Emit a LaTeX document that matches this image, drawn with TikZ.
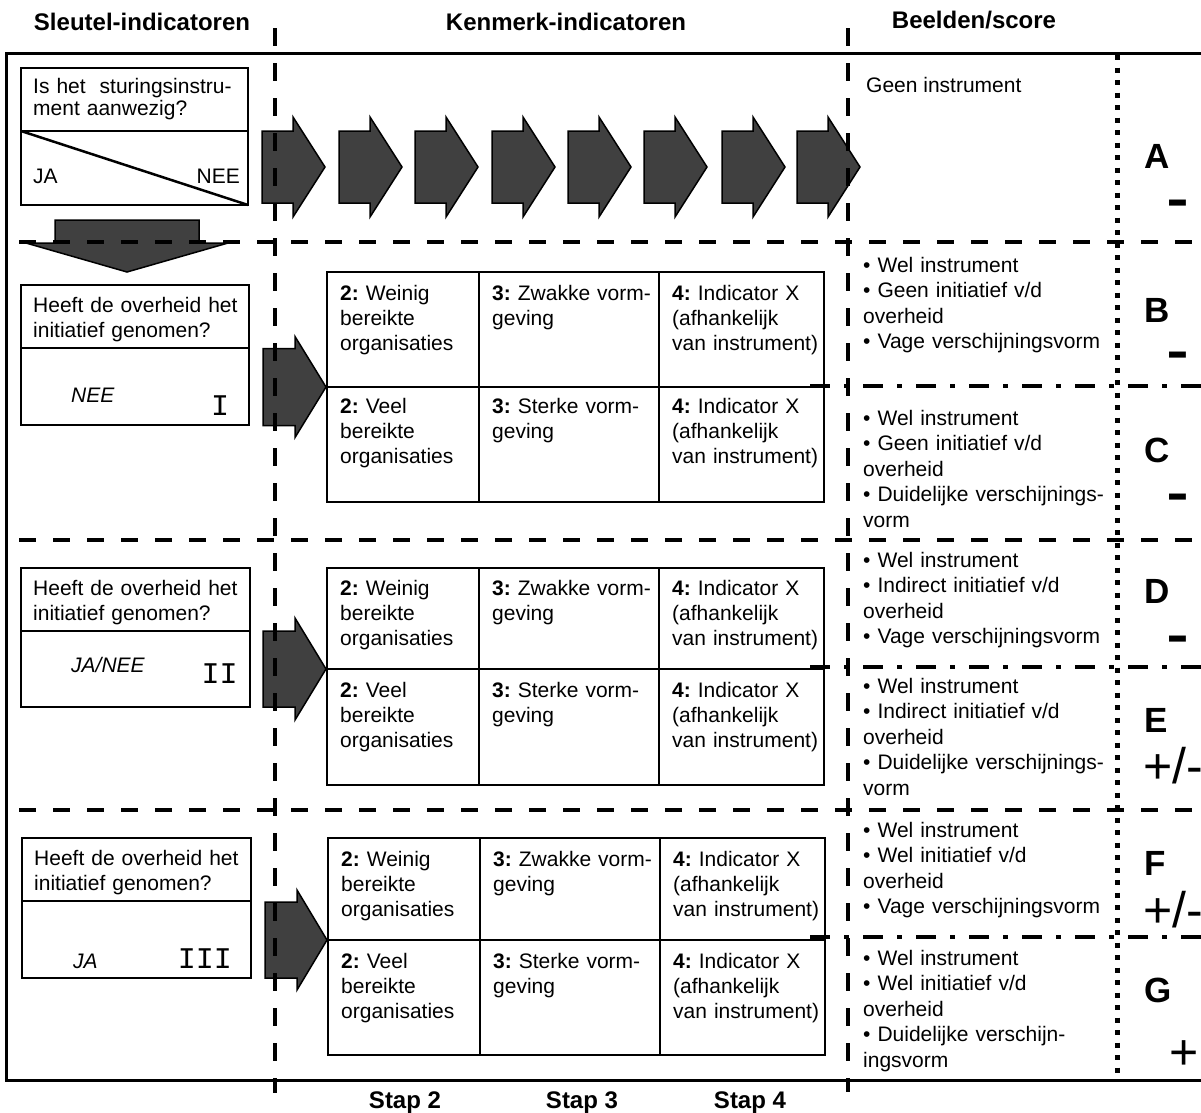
\documentclass[tikz,border=0pt]{standalone}
\usepackage{fontspec}
\usepackage{graphicx}
\setmainfont{Liberation Sans}
\newfontfamily\romfont{Liberation Mono}
\frenchspacing
\begin{document}
\begin{tikzpicture}[x=1pt,y=-1pt]
\tikzset{
  frameline/.style={line width=3pt},
  boxline/.style={line width=2.8pt},
  hdashline/.style={line width=4.5pt, dash pattern=on 17pt off 17pt},
  vdashline/.style={line width=4.5pt, dash pattern=on 18pt off 17pt},
  dotline/.style={line width=5pt, dash pattern=on 5pt off 7.5pt},
  dashdotline/.style={line width=4.5pt, dash pattern=on 20pt off 14pt on 5pt off 14pt},
  arrowfill/.style={fill=black!75, draw=black, line width=1.5pt, line join=miter},
  hdr/.style={font=\fontsize{24}{28}\selectfont\bfseries, inner sep=0pt, anchor=base},
  txt/.style={font=\fontsize{21}{25}\selectfont, inner sep=0pt, anchor=base west, align=left, text width=220pt},
  rtxt/.style={font=\fontsize{21}{25.5}\selectfont, inner sep=0pt, anchor=base west, align=left, text width=250pt},
  ital/.style={font=\fontsize{21}{25}\selectfont\itshape, inner sep=0pt, anchor=base west},
  roman/.style={font=\fontsize{30}{30}\selectfont\romfont, inner sep=0pt, anchor=base},
  letter/.style={font=\fontsize{35}{35}\selectfont\bfseries, inner sep=0pt, anchor=base west},
  minus/.style={font=\fontsize{34}{34}\selectfont\bfseries, inner sep=0pt, anchor=base},
  pm/.style={font=\fontsize{50}{50}\selectfont, inner sep=0pt},
  pics/rarr/.style n args={4}{code={
    \path[arrowfill] (0,-#3) -- (#1,-#3) -- (#1,-#4) -- ({#1+#2},0) -- (#1,#4) -- (#1,#3) -- (0,#3) -- cycle;
  }},
}
\newcommand{\thickdash}{\scalebox{1}[1.8]{–}}
\useasboundingbox (0,0) rectangle (1201,1112);

% headers
\node[hdr] (h1) at (142,30) {Sleutel-indicatoren};
\node[hdr] (h2) at (566,30) {Kenmerk-indicatoren};
\node[hdr] (h3) at (974,28) {Beelden/score};
\node[hdr] (s2) at (405,1108) {Stap 2};
\node[hdr] (s3) at (582,1108) {Stap 3};
\node[hdr] (s4) at (750,1108) {Stap 4};

% frame
\draw[frameline] (6,53) rectangle (1215,1080);

% top question box
\draw[boxline] (21,68) rectangle (248,205);
\draw[boxline] (21,131) -- (248,131);
\draw[line width=2.5pt] (21,131) -- (248,205);
\node[txt, font=\fontsize{21}{22}\selectfont] (q0) at (33,93) {Is het~ sturingsinstru-\\ment aanwezig?};
\node[inner sep=0pt, anchor=base west, font=\fontsize{21}{25}\selectfont] (ja0) at (33,183) {JA};
\node[inner sep=0pt, anchor=base east, font=\fontsize{21}{25}\selectfont] (nee0) at (240,183) {NEE};

% top arrows
\foreach \ax in {262,339,415,492,568,644,722,797}
  \pic at (\ax,167) {rarr={31}{32}{36}{50}};

% down arrow
\path[arrowfill] (55,220) -- (199,220) -- (199,243) -- (228,243) -- (127,272) -- (26,243) -- (55,243) -- cycle;

\node[inner sep=0pt, anchor=base west, font=\fontsize{21}{25}\selectfont] (geen) at (866,92) {Geen instrument};

% ---- section I ----
\draw[boxline] (21,285) rectangle (249,425);
\draw[boxline] (21,348) -- (249,348);
\node[txt] (q1) at (33,312) {Heeft de overheid het\\initiatief genomen?};
\node[ital] (a1) at (71,402) {NEE};
\node[roman] (r1) at (220,415) {I};
\pic at (263,387) {rarr={32}{31}{38.5}{50.5}};

\draw[boxline] (327,272) rectangle (824,502);
\draw[boxline] (327,387) -- (824,387);
\draw[boxline] (479,272) -- (479,502);
\draw[boxline] (659,272) -- (659,502);
\node[txt] (t1a) at (340,300) {\textbf{2:} Weinig\\bereikte\\organisaties};
\node[txt] (t1b) at (492,300) {\textbf{3:} Zwakke vorm-\\geving};
\node[txt] (t1c) at (672,300) {\textbf{4:} Indicator X\\(afhankelijk\\van instrument)};
\node[txt] (t1d) at (340,413) {\textbf{2:} Veel\\bereikte\\organisaties};
\node[txt] (t1e) at (492,413) {\textbf{3:} Sterke vorm-\\geving};
\node[txt] (t1f) at (672,413) {\textbf{4:} Indicator X\\(afhankelijk\\van instrument)};

% ---- section II ----
\draw[boxline] (21,568) rectangle (250,707);
\draw[boxline] (21,631) -- (250,631);
\node[txt] (q2) at (33,595) {Heeft de overheid het\\initiatief genomen?};
\node[ital] (a2) at (71,672) {JA/NEE};
\node[roman] (r2) at (219.5,683) {II};
\pic at (263,669) {rarr={32}{31}{38}{51}};

\draw[boxline] (327,568) rectangle (824,785);
\draw[boxline] (327,669) -- (824,669);
\draw[boxline] (479,568) -- (479,785);
\draw[boxline] (659,568) -- (659,785);
\node[txt] (t2a) at (340,595) {\textbf{2:} Weinig\\bereikte\\organisaties};
\node[txt] (t2b) at (492,595) {\textbf{3:} Zwakke vorm-\\geving};
\node[txt] (t2c) at (672,595) {\textbf{4:} Indicator X\\(afhankelijk\\van instrument)};
\node[txt] (t2d) at (340,697) {\textbf{2:} Veel\\bereikte\\organisaties};
\node[txt] (t2e) at (492,697) {\textbf{3:} Sterke vorm-\\geving};
\node[txt] (t2f) at (672,697) {\textbf{4:} Indicator X\\(afhankelijk\\van instrument)};

% ---- section III ----
\draw[boxline] (22,838) rectangle (251,978);
\draw[boxline] (22,901) -- (251,901);
\node[txt] (q3) at (34,865) {Heeft de overheid het\\initiatief genomen?};
\node[ital] (a3) at (73,968) {JA};
\node[roman] (r3) at (205,968) {III};
\pic at (265,940) {rarr={32}{30}{38}{50}};

\draw[boxline] (328,838) rectangle (825,1055);
\draw[boxline] (328,940) -- (825,940);
\draw[boxline] (480,838) -- (480,1055);
\draw[boxline] (660,838) -- (660,1055);
\node[txt] (t3a) at (341,866) {\textbf{2:} Weinig\\bereikte\\organisaties};
\node[txt] (t3b) at (493,866) {\textbf{3:} Zwakke vorm-\\geving};
\node[txt] (t3c) at (673,866) {\textbf{4:} Indicator X\\(afhankelijk\\van instrument)};
\node[txt] (t3d) at (341,968) {\textbf{2:} Veel\\bereikte\\organisaties};
\node[txt] (t3e) at (493,968) {\textbf{3:} Sterke vorm-\\geving};
\node[txt] (t3f) at (673,968) {\textbf{4:} Indicator X\\(afhankelijk\\van instrument)};

% ---- right column ----
\node[rtxt] (bB) at (863,272) {• Wel instrument\\• Geen initiatief v/d\\overheid\\• Vage verschijningsvorm};
\node[rtxt] (bC) at (863,425) {• Wel instrument\\• Geen initiatief v/d\\overheid\\• Duidelijke verschijnings-\\vorm};
\node[rtxt] (bD) at (863,567) {• Wel instrument\\• Indirect initiatief v/d\\overheid\\• Vage verschijningsvorm};
\node[rtxt] (bE) at (863,693) {• Wel instrument\\• Indirect initiatief v/d\\overheid\\• Duidelijke verschijnings-\\vorm};
\node[rtxt] (bF) at (863,837) {• Wel instrument\\• Wel initiatief v/d\\overheid\\• Vage verschijningsvorm};
\node[rtxt] (bG) at (863,965) {• Wel instrument\\• Wel initiatief v/d\\overheid\\• Duidelijke verschijn-\\ingsvorm};

\node[letter] (lA) at (1144,168) {A};
\node[letter] (lB) at (1144,322) {B};
\node[letter] (lC) at (1144,462) {C};
\node[letter] (lD) at (1144,603) {D};
\node[letter] (lE) at (1144,732) {E};
\node[letter] (lF) at (1144,875) {F};
\node[letter] (lG) at (1144,1002) {G};
\node[minus] (mA) at (1178,219) {\thickdash};
\node[minus] (mB) at (1178,371) {\thickdash};
\node[minus] (mC) at (1178,513) {\thickdash};
\node[minus] (mD) at (1178,655) {\thickdash};
\node[pm, anchor=base west] (pE) at (1143,783) {+/-};
\node[pm, anchor=base west] (pF) at (1143,927) {+/-};
\node[pm, anchor=base] (pG) at (1184,1069) {+};

% ---- separator lines ----
\foreach \yy in {242,540,810}
  \draw[hdashline] (19,\yy) -- (1205,\yy);
\foreach \yy in {386,667,937}
  \draw[dashdotline] (810,\yy) -- (1205,\yy);
\draw[vdashline] (275,28) -- (275,1093);
\draw[vdashline] (848,28) -- (848,1092);
\draw[dotline] (1117,55) -- (1117,1078);
\end{tikzpicture}
\end{document}
